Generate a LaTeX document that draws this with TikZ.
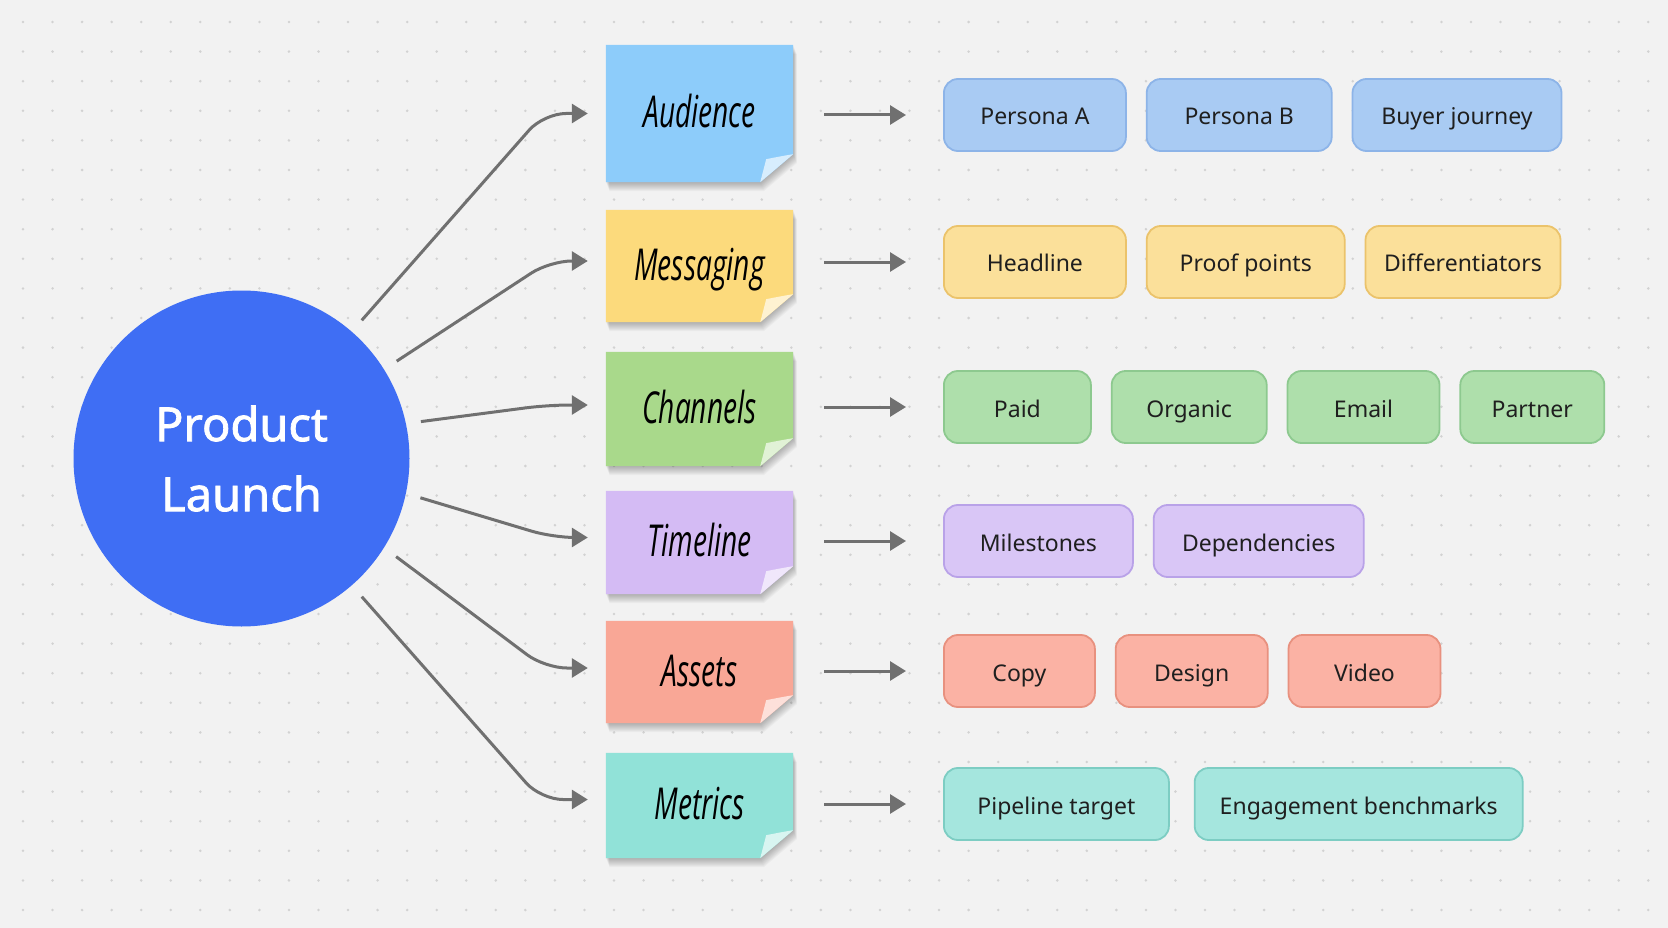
\documentclass[tikz,border=0pt]{standalone}
\usepackage{fontspec}
\setmainfont{Noto Sans}
\newfontfamily\notefont[FakeStretch=0.64]{Open Sans}
\newfontfamily\titlefont[FakeBold=1.6]{Noto Sans}
\usetikzlibrary{positioning,arrows.meta,backgrounds}

\definecolor{bggray}{HTML}{F2F2F2}
\definecolor{dotgray}{HTML}{D2D2D2}
\definecolor{arrgray}{HTML}{707070}
\definecolor{launchblue}{HTML}{3F6EF4}
\definecolor{audnote}{HTML}{8DCCFA}
\definecolor{mesnote}{HTML}{FCDA7C}
\definecolor{chanote}{HTML}{A9D98B}
\definecolor{timnote}{HTML}{D4BBF4}
\definecolor{assnote}{HTML}{F9A796}
\definecolor{metnote}{HTML}{91E2D8}
\definecolor{audfill}{HTML}{A9CBF3}\definecolor{audline}{HTML}{8DB4E8}
\definecolor{mesfill}{HTML}{FBE09A}\definecolor{mesline}{HTML}{EBC36B}
\definecolor{chafill}{HTML}{AEDFAB}\definecolor{chaline}{HTML}{8DC98F}
\definecolor{timfill}{HTML}{D9C6F6}\definecolor{timline}{HTML}{B9A2E8}
\definecolor{assfill}{HTML}{FBB2A4}\definecolor{assline}{HTML}{E8917F}
\definecolor{metfill}{HTML}{A5E6DE}\definecolor{metline}{HTML}{7DCDC3}

\begin{document}
\begin{tikzpicture}[x=1pt,y=-1pt,
    arr/.style={draw=arrgray, line width=3pt, -{Triangle[length=16pt,width=19pt]}},
    note/.style={minimum width=187pt, inner sep=0pt, text height=37pt, text depth=9pt,
	font=\notefont\itshape\fontsize{44}{50}\selectfont},
    pill/.style={draw=#1line, fill=#1fill, line width=1.8pt, rounded corners=14pt,
	minimum height=72pt, inner sep=0pt, text height=22pt, text depth=2pt,
	text=black!88, font=\fontsize{23}{28}\selectfont},
    gap/.style={right=19pt of #1}]
    \begin{scope}[on background layer]
	\fill[bggray] (0,0) rectangle (1668,928);
	\foreach \i in {0,...,55}
	    \foreach \j in {0,...,30}
		\fill[dotgray] (23+\i*29.55,22+\j*29.6) circle (1.4pt);
    \end{scope}
    \useasboundingbox (0,0) rectangle (1668,928);

    % center
    \node[circle, fill=launchblue, minimum size=336pt, inner sep=0pt, text=white, align=center,
	font=\titlefont\fontsize{47}{70}\selectfont] (launch) at (241.5,458.5) {Product\\Launch};

    % sticky notes
    \foreach \nm/\yc/\hh/\col/\txt in {aud/113.5/137/audnote/Audience, mes/266/112/mesnote/Messaging,
	cha/409/114/chanote/Channels, tim/542.5/103/timnote/Timeline,
	ass/672/102/assnote/Assets, met/805.5/105/metnote/Metrics}{
	\node[note, minimum height=\hh] (\nm) at (699.5,\yc) {\txt};
	\begin{scope}[on background layer]
	    \foreach \k in {1,...,9}
		\fill[black, opacity=0.03, transform canvas={xshift={0.4pt*\k}, yshift={-1pt*\k}}]
		    (\nm.north west) -- (\nm.north east) -- ([yshift=28pt]\nm.south east)
		    -- ([xshift=-33pt]\nm.south east) -- (\nm.south west) -- cycle;
	    \fill[\col] (\nm.north west) -- (\nm.north east) -- ([yshift=28pt]\nm.south east)
		-- ([xshift=-33pt]\nm.south east) -- (\nm.south west) -- cycle;
	    \fill[\col!35!white] ([yshift=28pt]\nm.south east)
		.. controls ([xshift=-12pt,yshift=26pt]\nm.south east) .. ([xshift=-27pt,yshift=23pt]\nm.south east)
		.. controls ([xshift=-30pt,yshift=12pt]\nm.south east) .. ([xshift=-33pt]\nm.south east) -- cycle;
	\end{scope}
    }

    % items
    \node[pill=aud, minimum width=182pt, anchor=west] (aud1) at (943,115) {Persona A};
    \node[pill=aud, minimum width=185pt, gap=aud1] (aud2) {Persona B};
    \node[pill=aud, minimum width=209pt, gap=aud2] (aud3) {Buyer journey};
    \node[pill=mes, minimum width=182pt, anchor=west] (mes1) at (943,262) {Headline};
    \node[pill=mes, minimum width=198pt, gap=mes1] (mes2) {Proof points};
    \node[pill=mes, minimum width=195pt, gap=mes2] (mes3) {Differentiators};
    \node[pill=cha, minimum width=147pt, anchor=west] (cha1) at (943,407) {Paid};
    \node[pill=cha, minimum width=155pt, gap=cha1] (cha2) {Organic};
    \node[pill=cha, minimum width=152pt, gap=cha2] (cha3) {Email};
    \node[pill=cha, minimum width=144pt, gap=cha3] (cha4) {Partner};
    \node[pill=tim, minimum width=189pt, anchor=west] (tim1) at (943,541) {Milestones};
    \node[pill=tim, minimum width=210pt, gap=tim1] (tim2) {Dependencies};
    \node[pill=ass, minimum width=151pt, anchor=west] (ass1) at (943,671) {Copy};
    \node[pill=ass, minimum width=152pt, gap=ass1] (ass2) {Design};
    \node[pill=ass, minimum width=152pt, gap=ass2] (ass3) {Video};
    \node[pill=met, minimum width=225pt, anchor=west] (met1) at (943,804) {Pipeline target};
    \node[pill=met, minimum width=328pt, right=24pt of met1] (met2) {Engagement benchmarks};

    % connectors
    \foreach \nm/\ang/\cx/\dy in {aud/49/62pt/0pt, mes/32/56pt/5pt, cha/12/58pt/4pt,
	tim/-12/53pt/5pt, ass/-32/61pt/4pt, met/-49/65pt/6pt}{
	\draw[arr, rounded corners=22pt, shorten <=15pt, shorten >=18pt]
	    (launch.\ang) -- ([xshift=-\cx,yshift=\dy]\nm.west) -- ([yshift=\dy]\nm.west);
	\draw[arr, shorten <=31pt, shorten >=37pt] (\nm.east |- \nm1.west) -- (\nm1.west);
    }
\end{tikzpicture}
\end{document}
